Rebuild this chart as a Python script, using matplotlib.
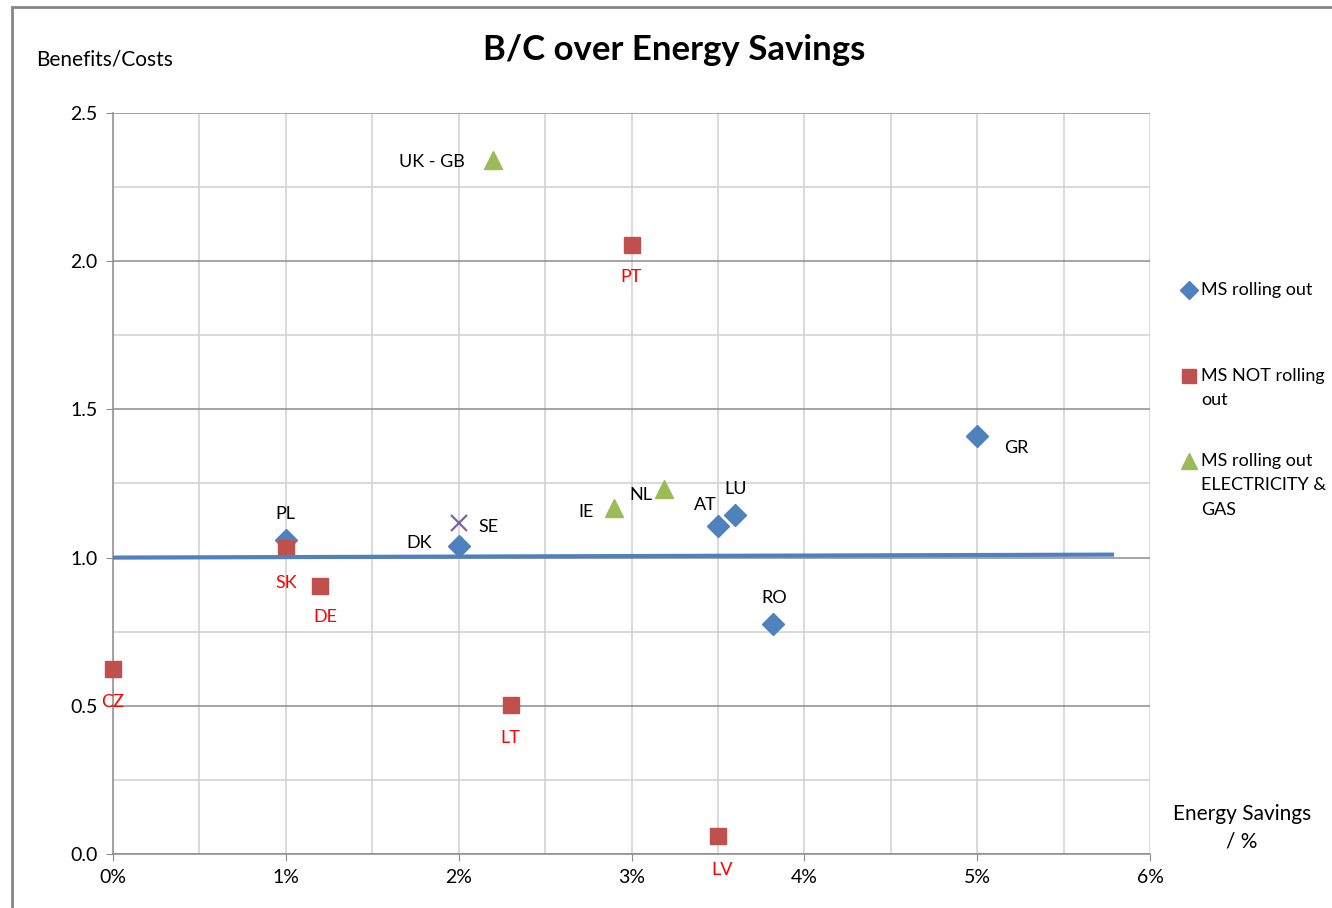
import matplotlib
matplotlib.use("Agg")
import matplotlib.pyplot as plt
from matplotlib.lines import Line2D
from matplotlib.patches import Rectangle
import numpy as np

plt.rcParams['font.family'] = ['Lato', 'DejaVu Sans']

# MS rolling out (blue diamonds)
roll_names = ['PL', 'DK', 'AT', 'LU', 'RO', 'GR']
roll_x = [1.0, 2.0, 3.5, 3.6, 3.82, 5.0]
roll_y = [1.06, 1.04, 1.107, 1.144, 0.776, 1.41]

# MS NOT rolling out (red squares)
not_names = ['CZ', 'SK', 'DE', 'PT', 'LT', 'LV']
not_x = [0.0, 1.0, 1.2, 3.0, 2.3, 3.5]
not_y = [0.624, 1.032, 0.904, 2.055, 0.503, 0.061]

# MS rolling out electricity & gas (green triangles)
eg_names = ['UK - GB', 'IE', 'NL']
eg_x = [2.2, 2.9, 3.19]
eg_y = [2.34, 1.167, 1.23]

# other (purple cross)
se_x = [2.0]
se_y = [1.117]

# B/C = 1 line
trend_x = [0.0, 5.78]
trend_y = [1.0, 1.01]

blue = '#4F81BD'
red = '#C0504D'
green = '#9BBB59'
purple = '#8064A2'

# label offsets in pixels (dx, dy, ha)
offsets = {
    'PL': (0, 26, 'center'), 'DK': (-27, 3, 'right'), 'AT': (-1, 21, 'right'),
    'LU': (0, 26, 'center'), 'RO': (1, 26, 'center'), 'GR': (27, -12, 'left'),
    'CZ': (0, -33, 'center'), 'SK': (0, -35, 'center'), 'DE': (5, -31, 'center'),
    'PT': (0, -32, 'center'), 'LT': (0, -33, 'center'), 'LV': (4, -34, 'center'),
    'UK - GB': (-28, -2, 'right'), 'IE': (-20, -4, 'right'), 'NL': (-12, -6, 'right'),
    'SE': (20, -4, 'left'),
}

fig = plt.figure(figsize=(13.32, 9.08), dpi=100)
ax = fig.add_axes([113 / 1332, 1 - 854 / 908, (1150 - 113) / 1332, (854 - 113) / 908])

ax.set_xlim(0, 6)
ax.set_ylim(0, 2.5)
ax.set_xticks(np.arange(0, 6.1, 1))
ax.set_xticks(np.arange(0.5, 6, 1), minor=True)
ax.set_yticks(np.arange(0, 2.51, 0.5))
ax.set_yticks(np.arange(0.25, 2.5, 0.5), minor=True)
ax.set_xticklabels([f'{int(v)}%' for v in np.arange(0, 6.1, 1)])
ax.set_yticklabels([f'{v:.1f}' for v in np.arange(0, 2.51, 0.5)])

ax.grid(True, axis='x', which='both', color='#D0D0D0', linewidth=1.1)
ax.grid(True, axis='y', which='major', color='#8C8C8C', linewidth=1.1)
ax.grid(True, axis='y', which='minor', color='#D0D0D0', linewidth=1.1)
ax.set_axisbelow(True)
for s in ['top', 'right']:
    ax.spines[s].set_visible(False)
for s in ['left', 'bottom']:
    ax.spines[s].set_color('#8C8C8C')
    ax.spines[s].set_linewidth(1.1)
ax.tick_params(which='major', length=5, color='#8C8C8C', labelsize=14, pad=6)
ax.tick_params(which='minor', length=0)

ax.plot(roll_x, roll_y, 'D', color=blue, markersize=11.5, clip_on=False, zorder=3)
ax.plot(not_x, not_y, 's', color=red, markersize=12, clip_on=False, zorder=4)
ax.plot(eg_x, eg_y, '^', color=green, markersize=13, clip_on=False, zorder=3)
ax.plot(se_x, se_y, 'x', color=purple, markersize=12, markeredgewidth=1.6, zorder=3)
ax.plot(trend_x, trend_y, color=blue, linewidth=3, zorder=5)

for names, xs, ys, col in [(roll_names, roll_x, roll_y, 'black'),
                           (not_names, not_x, not_y, '#FF0000'),
                           (eg_names, eg_x, eg_y, 'black'),
                           (['SE'], se_x, se_y, 'black')]:
    for n, x, y in zip(names, xs, ys):
        dx, dy, ha = offsets[n]
        ax.annotate(n, (x, y), xytext=(dx, dy), textcoords='offset pixels',
                    ha=ha, va='center', color=col, fontsize=13, zorder=6)

fig.text(674 / 1332, 1 - 50 / 908, 'B/C over Energy Savings', ha='center', va='center',
         fontsize=25, fontweight='bold')
fig.text(36 / 1332, 1 - 59 / 908, 'Benefits/Costs', ha='left', va='center', fontsize=15)
fig.text(1242 / 1332, 1 - 828 / 908, 'Energy Savings\n/ %', ha='center', va='center',
         fontsize=15, linespacing=1.5)

# legend drawn by hand so markers line up with first text line
leg = [('D', blue, 9.5, 'MS rolling out', 290),
       ('s', red, 10, 'MS NOT rolling\nout', 376),
       ('^', green, 11, 'MS rolling out\nELECTRICITY &\nGAS', 461)]
for m, c, ms, txt, py in leg:
    fig.add_artist(Line2D([1189 / 1332], [1 - py / 908], marker=m, color=c,
                          markersize=ms, linestyle='none'))
    fig.text(1201 / 1332, 1 - (py - 8) / 908, txt, ha='left', va='top', fontsize=13,
             linespacing=1.65)

# outer chart frame
fig.add_artist(Rectangle((12 / 1332, -0.01), 1.0, 1 - 7 / 908 + 0.01, transform=fig.transFigure,
                         fill=False, edgecolor='#868686', linewidth=2))

fig.savefig('out.png', dpi=100)
